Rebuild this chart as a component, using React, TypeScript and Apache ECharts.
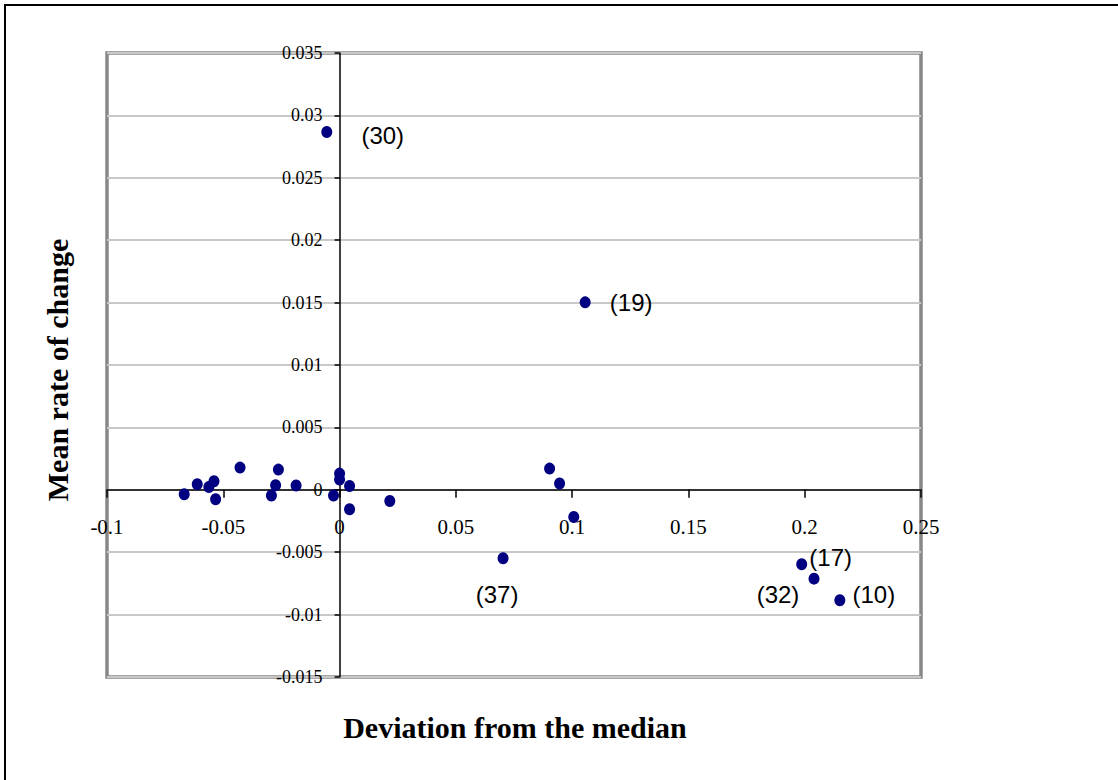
import React, { useEffect, useRef } from "react";
import * as echarts from "echarts";

// Deviation from the median (x) and mean rate of change (y)
const xValues = [
  -0.0668, -0.0612, -0.0562, -0.054, -0.0533, -0.0428, -0.0293, -0.0275, -0.0263, -0.0187,
  -0.0026, 0.0, 0.0, 0.0043, 0.0043, 0.0216, 0.0903, 0.0946, 0.1007, -0.0055, 0.1056,
  0.0703, 0.1987, 0.204, 0.2151,
];
const yValues = [
  -0.00036, 0.00044, 0.00022, 0.00068, -0.00076, 0.00178, -0.00046, 0.00036, 0.00162, 0.00034,
  -0.00046, 0.0013, 0.00082, 0.0003, -0.00156, -0.0009, 0.0017, 0.0005, -0.00218, 0.02867, 0.01502,
  -0.00549, -0.00597, -0.00712, -0.00885,
];
const pointLabels = [
  "", "", "", "", "", "", "", "", "", "",
  "", "", "", "", "", "", "", "", "", "(30)", "(19)",
  "(37)", "(17)", "(32)", "(10)",
];

const xTicks = { min: -0.1, max: 0.25, interval: 0.05 };
const yTicks = { min: -0.015, max: 0.035, interval: 0.005 };

const xTitle = "Deviation from the median";
const yTitle = "Mean rate of change";

// label placement (style, not data)
const labelOffsets: Record<string, [number, number]> = {
  "(30)": [56, 4],
  "(19)": [46, 0],
  "(37)": [-6, 36],
  "(17)": [29, -7],
  "(32)": [-36, 16],
  "(10)": [34, -6],
};

const W = 1118;
const H = 780;
const G = { left: 107, right: 197, top: 53, bottom: 103 };

export default function App() {
  const ref = useRef<HTMLDivElement>(null);
  useEffect(() => {
    document.body.style.margin = "0";
    if (!ref.current) return;
    const chart = echarts.init(ref.current, undefined, { renderer: "svg" });
    const gw = W - G.left - G.right;
    const gh = H - G.top - G.bottom;
    // distance from grid edges to the zero lines (axes cross at zero)
    const yAxisShift = (gw * (0 - xTicks.min)) / (xTicks.max - xTicks.min);
    const xAxisShift = (gh * (0 - yTicks.min)) / (yTicks.max - yTicks.min);
    const data = xValues.map((x, i) => {
      const lab = pointLabels[i];
      const item: any = { value: [x, yValues[i]] };
      if (lab) {
        item.label = {
          show: true,
          position: "inside",
          offset: labelOffsets[lab] || [30, 0],
          formatter: lab,
          color: "#000",
          opacity: 1,
          fontFamily: "Liberation Sans, Arial, sans-serif",
          fontSize: 24,
        };
      }
      return item;
    });
    chart.setOption({
      animation: false,
      backgroundColor: "#fff",
      grid: {
        left: G.left,
        right: G.right,
        top: G.top,
        bottom: G.bottom,
        show: true,
        borderColor: "#888",
        borderWidth: 3.5,
        backgroundColor: "transparent",
      },
      xAxis: {
        type: "value",
        position: "bottom",
        offset: -xAxisShift,
        min: xTicks.min,
        max: xTicks.max,
        interval: xTicks.interval,
        axisLine: { show: true, onZero: false, lineStyle: { color: "#000", width: 1.5 } },
        axisTick: { show: true, inside: false, length: 8, lineStyle: { color: "#000", width: 1.5 } },
        axisLabel: {
          margin: 27,
          color: "#000",
          fontFamily: "Liberation Serif, Times New Roman, serif",
          fontSize: 21,
          showMinLabel: true,
          showMaxLabel: true,
        },
        splitLine: { show: false },
      },
      yAxis: {
        type: "value",
        position: "left",
        offset: -yAxisShift,
        min: yTicks.min,
        max: yTicks.max,
        interval: yTicks.interval,
        axisLine: { show: true, onZero: false, lineStyle: { color: "#000", width: 1.5 } },
        axisTick: { show: true, inside: false, length: 5, lineStyle: { color: "#000", width: 1.5 } },
        axisLabel: {
          margin: 17,
          color: "#000",
          fontFamily: "Liberation Serif, Times New Roman, serif",
          fontSize: 18,
          showMinLabel: true,
          showMaxLabel: true,
        },
        splitLine: { show: true, lineStyle: { color: "#c8c8c8", width: 2 } },
      },
      series: [
        {
          type: "scatter",
          symbol: "circle",
          symbolSize: [11, 12],
          itemStyle: { color: "#000080", opacity: 1 },
          data,
          z: 5,
        },
      ],
      graphic: [
        {
          type: "rect",
          shape: { x: 5, y: 5, width: 1130, height: 800 },
          style: { fill: "none", stroke: "#000", lineWidth: 2 },
          silent: true,
          z: -1,
        },
        {
          type: "text",
          x: 515,
          y: 727,
          style: {
            text: xTitle,
            fontFamily: "Liberation Serif, Times New Roman, serif",
            fontWeight: "bold",
            fontSize: 30,
            fill: "#000",
            align: "center",
            verticalAlign: "middle",
          },
        },
        {
          type: "text",
          x: 57,
          y: 370,
          rotation: Math.PI / 2,
          style: {
            text: yTitle,
            fontFamily: "Liberation Serif, Times New Roman, serif",
            fontWeight: "bold",
            fontSize: 30,
            fill: "#000",
            align: "center",
            verticalAlign: "middle",
          },
        },
      ],
    });
    return () => chart.dispose();
  }, []);
  return <div ref={ref} style={{ width: W, height: H }} />;
}
